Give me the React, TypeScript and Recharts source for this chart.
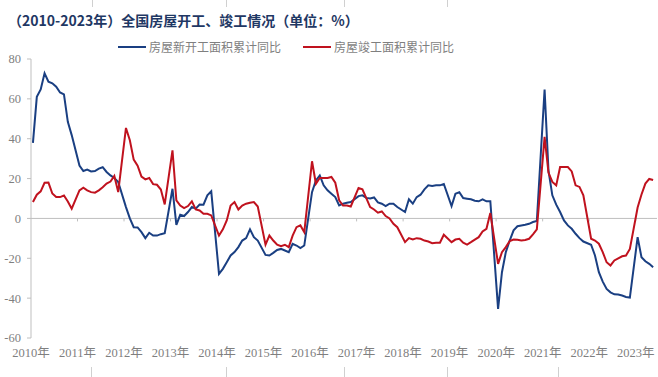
import { LineChart, Line, XAxis, YAxis, ReferenceLine } from 'recharts'

// 12 slots per year: Jan-Feb, Mar ... Dec, then an empty slot (connected over)
const years = [2010, 2011, 2012, 2013, 2014, 2015, 2016, 2017, 2018, 2019, 2020, 2021, 2022, 2023]
const yearLabels = years.map(y => `${y}年`)
const yTicks = [-60, -40, -20, 0, 20, 40, 60, 80]

// 房屋新开工面积累计同比 (%)
const newStartsYoY: (number | null)[] = [
  37.9, 61.0, 64.7, 72.8, 68.6, 67.8, 66.1, 63.2, 62.2, 48.5, 41.8, null,
  26.5, 23.8, 24.5, 23.6, 23.8, 25.0, 25.7, 23.3, 21.6, 20.3, 18.3, null,
  5.7, 0.0, -4.4, -4.5, -6.9, -9.9, -7.2, -8.6, -8.6, -7.9, -7.4, null,
  14.9, -3.2, 1.8, 1.2, 3.2, 5.7, 4.9, 7.0, 6.9, 11.6, 13.6, null,
  -27.8, -25.3, -22.0, -18.6, -16.9, -14.4, -11.1, -9.9, -5.5, -9.4, -11.1, null,
  -18.3, -18.6, -17.3, -15.8, -15.3, -16.1, -16.9, -12.7, -13.6, -14.9, -13.6, null,
  13.2, 19.1, 21.6, 16.6, 14.1, 12.4, 10.7, 6.5, 7.4, 7.9, 8.2, null,
  11.2, 11.6, 10.3, 10.0, 10.5, 8.0, 7.4, 6.2, 7.4, 7.4, 5.7, null,
  3.2, 9.6, 7.4, 10.7, 11.9, 14.6, 16.6, 16.3, 16.6, 16.6, 17.3, null,
  6.2, 12.4, 13.2, 10.2, 9.9, 9.6, 8.9, 8.6, 9.6, 8.6, 8.6, null,
  -45.4, -27.0, -16.9, -11.1, -6.0, -3.9, -3.5, -3.2, -2.7, -1.8, -1.3, null,
  64.7, 24.0, 11.6, 6.9, 3.2, -1.0, -3.5, -5.2, -7.7, -9.9, -11.6, null,
  -13.2, -18.6, -27.0, -31.7, -35.4, -37.1, -38.1, -38.2, -38.7, -39.4, -39.7, null,
  -9.4, -19.5, -21.5, -22.8, -24.5,
]

// 房屋竣工面积累计同比 (%)
const completionsYoY: (number | null)[] = [
  8.2, 11.9, 13.6, 17.9, 18.0, 12.5, 10.8, 10.7, 11.5, 8.5, 4.9, null,
  14.1, 15.4, 14.1, 13.2, 12.9, 14.1, 15.6, 17.5, 18.5, 21.3, 13.2, null,
  45.4, 39.2, 29.5, 26.5, 21.0, 19.6, 20.3, 17.2, 16.9, 14.5, 7.0, null,
  34.2, 9.1, 6.5, 5.2, 6.2, 8.6, 4.5, 4.0, 2.3, 2.3, 1.5, null,
  -8.6, -5.5, -1.0, 6.5, 8.2, 4.5, 6.5, 7.4, 7.9, 8.2, 6.0, null,
  -13.2, -8.6, -11.1, -13.2, -13.9, -13.2, -14.4, -8.6, -4.4, -3.5, -6.9, null,
  28.7, 17.4, 20.3, 20.3, 20.3, 20.8, 17.9, 9.1, 6.5, 6.5, 6.0, null,
  15.3, 14.6, 10.2, 5.7, 4.5, 2.9, 3.5, 1.2, 0.0, -2.7, -4.4, null,
  -11.9, -9.9, -10.6, -9.9, -10.2, -11.1, -11.6, -12.4, -12.2, -12.2, -8.2, null,
  -11.9, -10.6, -10.2, -12.2, -13.1, -11.9, -10.6, -9.4, -6.5, -5.2, 2.7, null,
  -22.8, -16.9, -14.4, -11.4, -10.6, -10.7, -11.1, -10.8, -10.2, -8.0, -5.5, null,
  40.9, 23.0, 18.3, 16.6, 25.8, 25.8, 25.8, 23.6, 16.6, 15.8, 11.6, null,
  -10.2, -11.1, -12.7, -16.9, -22.0, -23.6, -21.1, -20.0, -19.0, -18.6, -15.3, null,
  5.5, 12.0, 17.5, 19.8, 19.3,
]

const BLUE = '#1a3f82'
const RED = '#c0121e'
const GRAY = '#bfbfbf'
const LABEL = '#7f7f7f'

const chartData = newStartsYoY.map((v, i) => ({
  idx: i,
  newStarts: v,
  completions: completionsYoY[i],
}))

// year boundaries sit half a slot before each year's first point
const yearTicks = years.map((_, k) => k * 12 - 0.5)

const tickFont = { fontSize: 12.5, fill: LABEL, fontFamily: '"Liberation Serif", "Noto Sans CJK SC", serif' }

export default function App() {
  return (
    <div style={{ position: 'absolute', left: 0, top: 0, width: 658, height: 377, background: '#fff', overflow: 'hidden' }}>
      {/* faint page rules above/below */}
      {[92, 226, 344, 447].map(x => (
        <div key={'t' + x} style={{ position: 'absolute', left: x, top: 0, width: 1, height: 7, background: '#d0d0d0' }} />
      ))}
      {[91, 226, 344, 447, 558].map(x => (
        <div key={'b' + x} style={{ position: 'absolute', left: x, top: 367, width: 1, height: 10, background: '#d0d0d0' }} />
      ))}

      <div style={{
        position: 'absolute', left: 8, top: 11, fontSize: 14, lineHeight: '18px', fontWeight: 700,
        color: '#1f3864', fontFamily: '"Noto Sans CJK SC", sans-serif', whiteSpace: 'nowrap',
      }}>
        （2010-2023年）全国房屋开工、竣工情况（单位：%）
      </div>

      <div style={{ position: 'absolute', left: 118, top: 46, width: 28, height: 2, background: BLUE }} />
      <div style={{
        position: 'absolute', left: 149, top: 39, fontSize: 12, lineHeight: '16px', color: LABEL,
        fontFamily: '"Noto Sans CJK SC", sans-serif', whiteSpace: 'nowrap',
      }}>房屋新开工面积累计同比</div>
      <div style={{ position: 'absolute', left: 303, top: 46, width: 28, height: 2, background: RED }} />
      <div style={{
        position: 'absolute', left: 334, top: 39, fontSize: 12, lineHeight: '16px', color: LABEL,
        fontFamily: '"Noto Sans CJK SC", sans-serif', whiteSpace: 'nowrap',
      }}>房屋竣工面积累计同比</div>

      <div style={{ position: 'absolute', left: 0, top: 0 }}>
        <LineChart width={658} height={377} data={chartData} margin={{ top: 59, right: 1, bottom: 9, left: 0 }}>
          <XAxis
            type="number"
            dataKey="idx"
            domain={[-0.5, 161]}
            ticks={yearTicks}
            interval={0}
            allowDataOverflow
            tickFormatter={(v: number) => yearLabels[Math.round((v + 0.5) / 12)]}
            axisLine={false}
            tickLine={false}
            tickSize={4}
            tickMargin={6}
            height={30}
            tick={tickFont}
          />
          <YAxis
            type="number"
            domain={[-60, 80]}
            ticks={yTicks}
            interval={0}
            width={31}
            axisLine={{ stroke: GRAY }}
            tickLine={{ stroke: GRAY }}
            tickSize={4}
            tickMargin={6}
            tick={tickFont}
          />
          <ReferenceLine y={0} stroke={GRAY} strokeWidth={1} />
          {yearTicks.slice(1).map(t => (
            <ReferenceLine
              key={t}
              segment={[{ x: t, y: 0 }, { x: t, y: -1.5 }]}
              stroke={GRAY}
              strokeWidth={1}
              ifOverflow="hidden"
            />
          ))}
          <Line
            type="linear"
            dataKey="newStarts"
            stroke={BLUE}
            strokeWidth={2}
            dot={false}
            connectNulls
            isAnimationActive={false}
          />
          <Line
            type="linear"
            dataKey="completions"
            stroke={RED}
            strokeWidth={2}
            dot={false}
            connectNulls
            isAnimationActive={false}
          />
        </LineChart>
      </div>
    </div>
  )
}
